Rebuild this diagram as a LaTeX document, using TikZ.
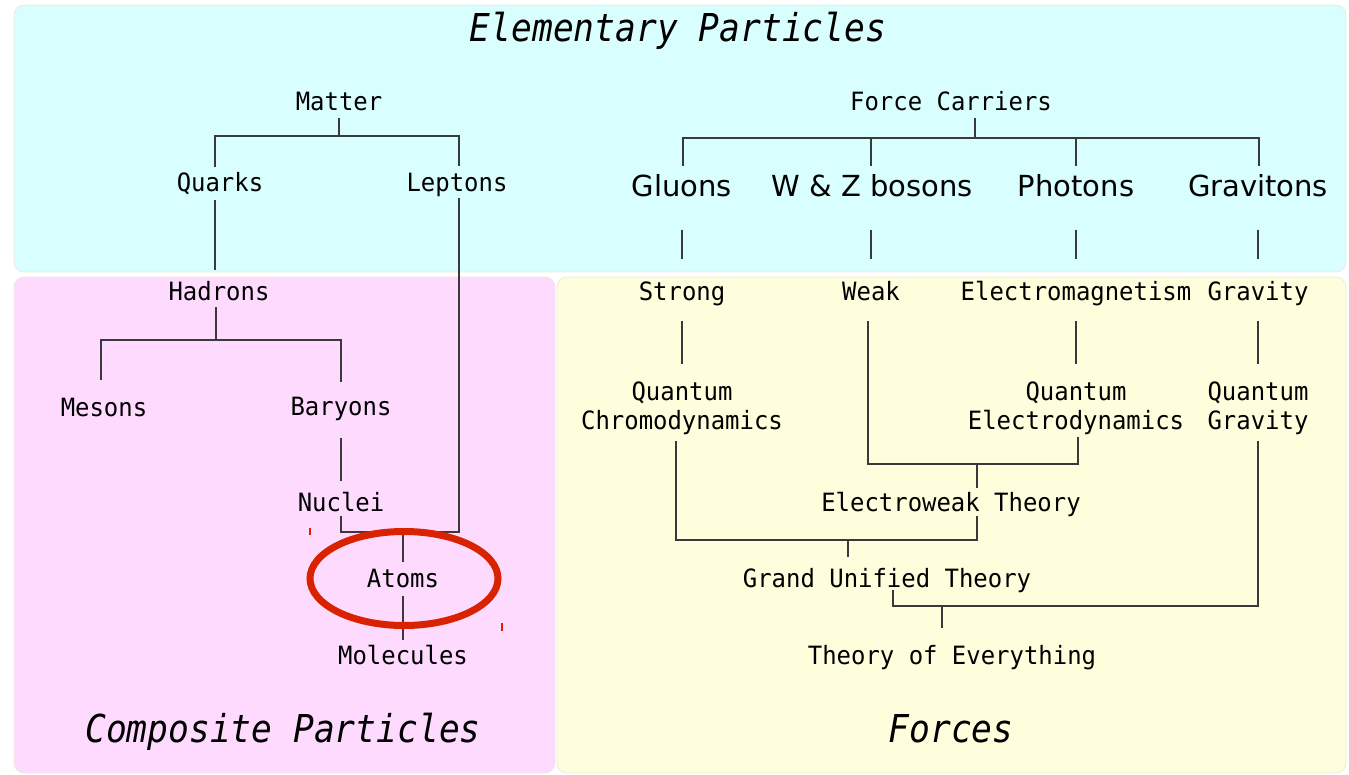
\documentclass[tikz,border=0pt]{standalone}
\usepackage{fontspec}
\newfontfamily\monof[FakeStretch=0.95]{DejaVu Sans Mono}
\newfontfamily\titlef[FakeStretch=0.9]{DejaVu Sans Mono}
\newfontfamily\propf{DejaVu Sans}
\definecolor{cyanbg}{HTML}{D9FEFE}
\definecolor{pinkbg}{HTML}{FEDBFE}
\definecolor{yellowbg}{HTML}{FEFEDD}
\definecolor{boxedge}{HTML}{EDEAE2}
\definecolor{circred}{HTML}{D82200}
\definecolor{linegray}{HTML}{3A3A3A}
\tikzset{
  panel/.style={fill=#1, draw=boxedge, line width=0.8pt, rounded corners=10pt},
  lbl/.style={inner sep=0pt, anchor=base, text height=17pt, text depth=0pt, font=\monof\fontsize{25.2}{29}\selectfont},
  carrier/.style={inner sep=0pt, anchor=base, text height=21pt, text depth=0pt, font=\propf\fontsize{29}{35}\selectfont},
  ttl/.style={inner sep=0pt, anchor=base, font=\titlef\itshape\fontsize{38.4}{44}\selectfont},
  conn/.style={draw=linegray, line width=1.2pt},
  tick/.style={draw=circred, line width=1.3pt},
  ring/.style={draw=circred, line width=7pt}
}
\begin{document}
\begin{tikzpicture}[x=1pt,y=-1pt]
\useasboundingbox (0,0) rectangle (1349,775);
% panels
\path[panel=cyanbg] (14,5) rectangle (1346,272);
\path[panel=pinkbg] (14,277) rectangle (555,773);
\path[panel=yellowbg] (557,277) rectangle (1346,773);

% titles
\node[ttl] (ep) at (678,42) {Elementary Particles};
\node[ttl] (cp) at (283,742) {Composite Particles};
\node[ttl] (forces) at (951,742) {Forces};

% matter side
\node[lbl] (matter) at (339,111) {Matter};
\node[lbl] (quarks) at (220,192) {Quarks};
\node[lbl] (leptons) at (457,192) {Leptons};
\node[lbl] (hadrons) at (219,301) {Hadrons};
\node[lbl] (mesons) at (104,416) {Mesons};
\node[lbl] (baryons) at (341,415) {Baryons};
\node[lbl] (nuclei) at (341,511) {Nuclei};
\node[lbl] (atoms) at (403,587) {Atoms};
\node[lbl] (molecules) at (403,664) {Molecules};

% force side
\node[lbl] (fc) at (951,111) {Force Carriers};
\node[carrier] (gluons) at (682,197) {Gluons};
\node[carrier] (wz) at (872,197) {W \& Z bosons};
\node[carrier] (photons) at (1076,197) {Photons};
\node[carrier] (gravitons) at (1258,197) {Gravitons};
\node[lbl] (strong) at (682,301) {Strong};
\node[lbl] (weak) at (871,301) {Weak};
\node[lbl] (em) at (1076,301) {Electromagnetism};
\node[lbl] (gravity) at (1258,301) {Gravity};
\node[lbl] (qcd1) at (682,400) {Quantum};
\node[lbl] (qcd) at (682,429) {Chromodynamics};
\node[lbl] (qed1) at (1076,400) {Quantum};
\node[lbl] (qed) at (1076,429) {Electrodynamics};
\node[lbl] (qg1) at (1258,400) {Quantum};
\node[lbl] (qg) at (1258,429) {Gravity};
\node[lbl] (ew) at (951,511) {Electroweak Theory};
\node[lbl] (gut) at (887,587) {Grand Unified Theory};
\node[lbl] (toe) at (952,664) {Theory of Everything};

% junction coordinates
\coordinate (mj) at (339,136);
\coordinate (mjL) at (215,136);
\coordinate (mjR) at (459,136);
\coordinate (qend) at (215,270);
\coordinate (hj) at (216,340);
\coordinate (hjL) at (101,340);
\coordinate (hjR) at (341,340);
\coordinate (aj) at (403,532);
\coordinate (ajL) at (341,532);
\coordinate (ajR) at (459,532);
\coordinate (fj) at (975,138);
\coordinate (fj1) at (683,138);
\coordinate (fj2) at (871,138);
\coordinate (fj3) at (1076,138);
\coordinate (fj4) at (1259,138);
\coordinate (ewj) at (977,464);
\coordinate (ewjL) at (868,464);
\coordinate (ewjR) at (1078,464);
\coordinate (gj) at (848,540);
\coordinate (gjL) at (676,540);
\coordinate (gjR) at (977,540);
\coordinate (tj) at (942,606);
\coordinate (tjL) at (893,606);
\coordinate (tjR) at (1258,606);

% matter connectors
\draw[conn] ([yshift=-7pt]matter.south) -- (mj);
\draw[conn] (mjL |- quarks.north) ++(0,-8) -- (mjL) -- (mjR) -- ++(0,30);
\draw[conn] ([xshift=-5pt,yshift=-8pt]quarks.south) -- (qend);
\draw[conn] ([xshift=2pt,yshift=-6pt]leptons.south) -- (ajR) -- (ajL) -- ([yshift=-5pt]nuclei.south);
\draw[conn] (aj) -- ([yshift=8pt]atoms.north);
\draw[conn] ([xshift=-3pt,yshift=-6pt]hadrons.south) -- (hj);
\draw[conn] (hjL) ++(0,40) -- (hjL) -- (hjR) -- ++(0,42);
\draw[conn] ([yshift=-23pt]baryons.south) -- ([yshift=13pt]nuclei.north);
\draw[conn] ([yshift=-9pt]atoms.south) -- ([yshift=7pt]molecules.north);

% force carrier connectors
\draw[conn] ([xshift=24pt,yshift=-7pt]fc.south) -- (fj);
\draw[conn] (fj1) ++(0,28) -- (fj1) -- (fj4) -- ++(0,28);
\draw[conn] (fj2) -- ++(0,28);
\draw[conn] (fj3) -- ++(0,28);
\draw[conn] ([yshift=-33pt]gluons.south) -- ([yshift=-62pt]gluons.south);
\draw[conn] ([xshift=-1pt,yshift=-33pt]wz.south) -- ([xshift=-1pt,yshift=-62pt]wz.south);
\draw[conn] ([yshift=-33pt]photons.south) -- ([yshift=-62pt]photons.south);
\draw[conn] ([yshift=-33pt]gravitons.south) -- ([yshift=-62pt]gravitons.south);

% forces connectors
\draw[conn] ([yshift=-20pt]strong.south) -- ([yshift=19pt]qcd1.north);
\draw[conn] ([yshift=-20pt]em.south) -- ([yshift=19pt]qed1.north);
\draw[conn] ([yshift=-20pt]gravity.south) -- ([yshift=19pt]qg1.north);
\draw[conn] ([xshift=-3pt,yshift=-20pt]weak.south) -- (ewjL) -- (ewjR) -- ([xshift=2pt,yshift=-8pt]qed.south);
\draw[conn] (ewj) -- ([xshift=26pt,yshift=6pt]ew.north);
\draw[conn] ([xshift=26pt,yshift=-5pt]ew.south) -- (gjR) -- (gjL) -- ([xshift=-6pt,yshift=-12pt]qcd.south);
\draw[conn] (gj) -- ([xshift=-39pt,yshift=13pt]gut.north);
\draw[conn] ([yshift=-12pt]qg.south) -- (tjR) -- (tjL) -- ([xshift=6pt,yshift=-3pt]gut.south);
\draw[conn] (tj) -- ([xshift=-10pt,yshift=19pt]toe.north);

% highlight ring and stray ticks
\draw[ring] (atoms.center) ++(1,0) ellipse [x radius=94, y radius=47];
\coordinate (t1) at (310,528);
\coordinate (t2) at (502,623);
\draw[tick] (t1) -- ++(0,7);
\draw[tick] (t2) -- ++(0,8);
\end{tikzpicture}
\end{document}
